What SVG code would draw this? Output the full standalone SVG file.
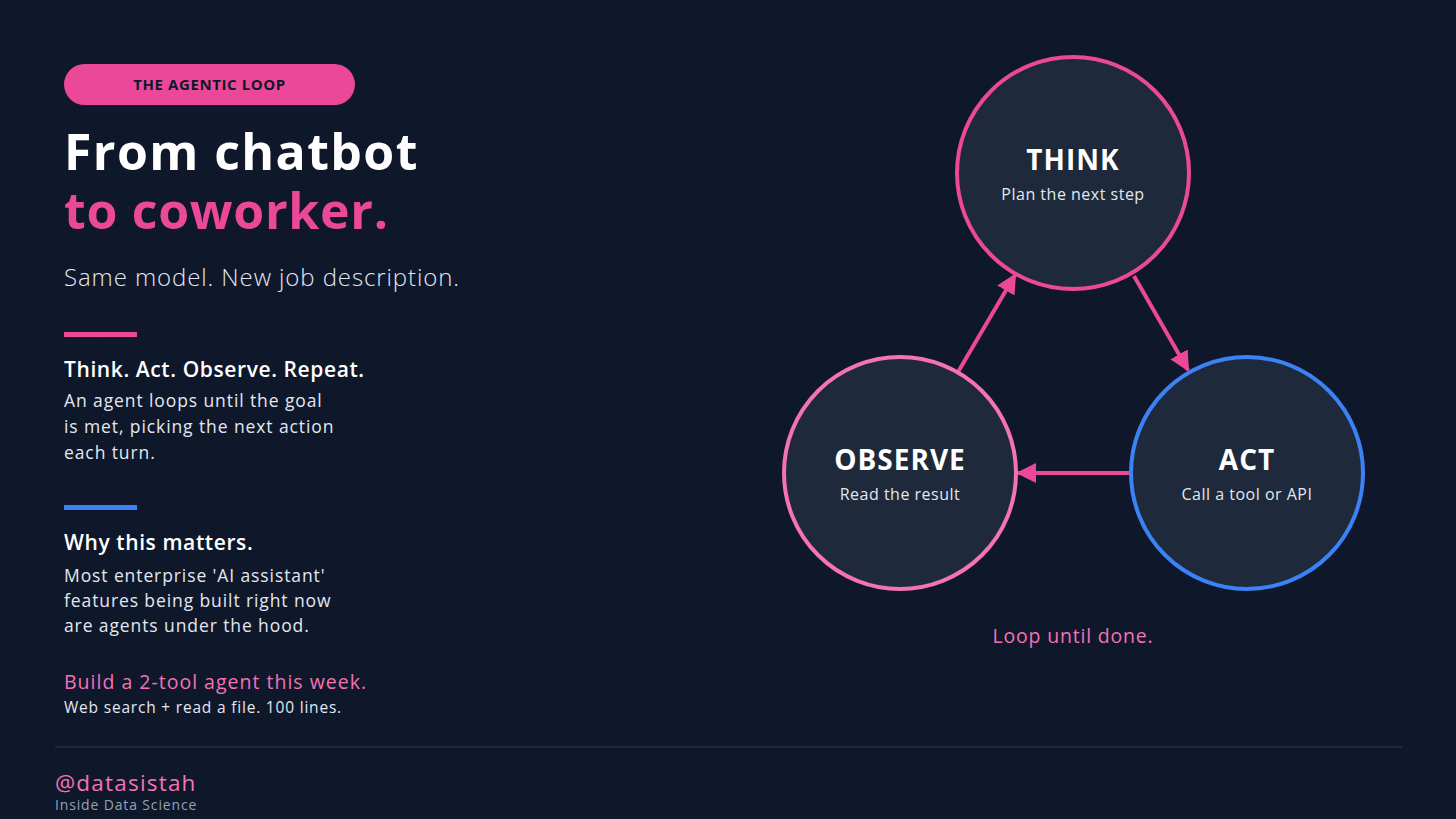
<svg xmlns="http://www.w3.org/2000/svg" width="1456" height="819" viewBox="0 0 1456 819">
<defs>
<pattern id="dots" x="0" y="0" width="26" height="26" patternUnits="userSpaceOnUse">
<circle cx="26" cy="26" r="1" fill="#1f2a3d"/>
</pattern>
<marker id="ah" viewBox="0 0 10 10" refX="9" refY="5" markerWidth="5" markerHeight="5" markerUnits="strokeWidth" orient="auto">
<path d="M0,0 L10,5 L0,10 z" fill="#ec4899"/>
</marker>
<style>
text{font-family:"Open Sans","Noto Sans","Liberation Sans",sans-serif}
.node{fill:#1e293b;stroke-width:4}
.ttl{font-weight:700;font-size:28px;fill:#ffffff;text-anchor:middle;letter-spacing:1px}
.sub{font-size:16px;fill:#e2e8f0;text-anchor:middle;letter-spacing:0.5px}
.body{font-size:17.5px;fill:#e2e8f0;font-weight:400;letter-spacing:0.9px}
.head{font-size:21px;fill:#ffffff;font-weight:600;letter-spacing:0.6px}
.conn{stroke:#ec4899;stroke-width:4;fill:none;marker-end:url(#ah)}
</style>
</defs>
<rect width="1456" height="819" fill="#0f172a"/>
<rect width="1456" height="819" fill="url(#dots)"/>

<g id="badge">
<rect x="64" y="64" width="291" height="41" rx="20.5" fill="#ec4899"/>
<text x="209.5" y="90" font-size="15" font-weight="700" fill="#0f172a" text-anchor="middle" letter-spacing="0.6">THE AGENTIC LOOP</text>
</g>

<g id="title">
<text x="64" y="170" font-size="50" font-weight="700" fill="#ffffff" letter-spacing="1.4">From chatbot</text>
<text x="64" y="229" font-size="50" font-weight="700" fill="#ec4899" letter-spacing="0.7">to coworker.</text>
<text x="64" y="286" font-size="24" font-weight="300" fill="#e2e8f0" letter-spacing="0.9">Same model. New job description.</text>
</g>

<g id="section-loop">
<rect x="64" y="332" width="73" height="5" fill="#ec4899"/>
<text x="64" y="377" class="head">Think. Act. Observe. Repeat.</text>
<text class="body"><tspan x="64" y="407">An agent loops until the goal</tspan><tspan x="64" y="433">is met, picking the next action</tspan><tspan x="64" y="459">each turn.</tspan></text>
</g>

<g id="section-why">
<rect x="64" y="505" width="73" height="5" fill="#3b82f6"/>
<text x="64" y="550" class="head">Why this matters.</text>
<text class="body"><tspan x="64" y="582">Most enterprise 'AI assistant'</tspan><tspan x="64" y="607">features being built right now</tspan><tspan x="64" y="632">are agents under the hood.</tspan></text>
</g>

<g id="cta">
<text x="64" y="689" font-size="19.5" font-weight="500" fill="#f472b6" letter-spacing="1">Build a 2-tool agent this week.</text>
<text x="64" y="713" font-size="15.5" fill="#e2e8f0" letter-spacing="0.8">Web search + read a file. 100 lines.</text>
</g>

<g id="footer">
<line x1="55" y1="747" x2="1402" y2="747" stroke="#1e293b" stroke-width="2"/>
<text x="55" y="791" font-size="22.5" fill="#f472b6" letter-spacing="1.2">@datasistah</text>
<text x="55" y="810" font-size="14" fill="#94a3b8" letter-spacing="0.85">Inside Data Science</text>
</g>

<g id="connectors">
<line class="conn" x1="958" y1="372" x2="1015" y2="275"/>
<line class="conn" x1="1134" y1="276" x2="1188" y2="370"/>
<line class="conn" x1="1130" y1="473" x2="1018" y2="473"/>
</g>

<g id="think">
<circle class="node" cx="1073" cy="173" r="116" stroke="#ec4899"/>
<text x="1073" y="170" class="ttl" letter-spacing="0">THINK</text>
<text x="1073" y="200" class="sub">Plan the next step</text>
</g>

<g id="act">
<circle class="node" cx="1247" cy="473" r="116" stroke="#3b82f6"/>
<text x="1247" y="470" class="ttl">ACT</text>
<text x="1247" y="500" class="sub">Call a tool or API</text>
</g>

<g id="observe">
<circle class="node" cx="900" cy="473" r="116" stroke="#f472b6"/>
<text x="900" y="470" class="ttl">OBSERVE</text>
<text x="900" y="500" class="sub">Read the result</text>
</g>

<text x="1073" y="643" font-size="19.5" font-weight="500" fill="#f472b6" text-anchor="middle" letter-spacing="0.8">Loop until done.</text>
</svg>
